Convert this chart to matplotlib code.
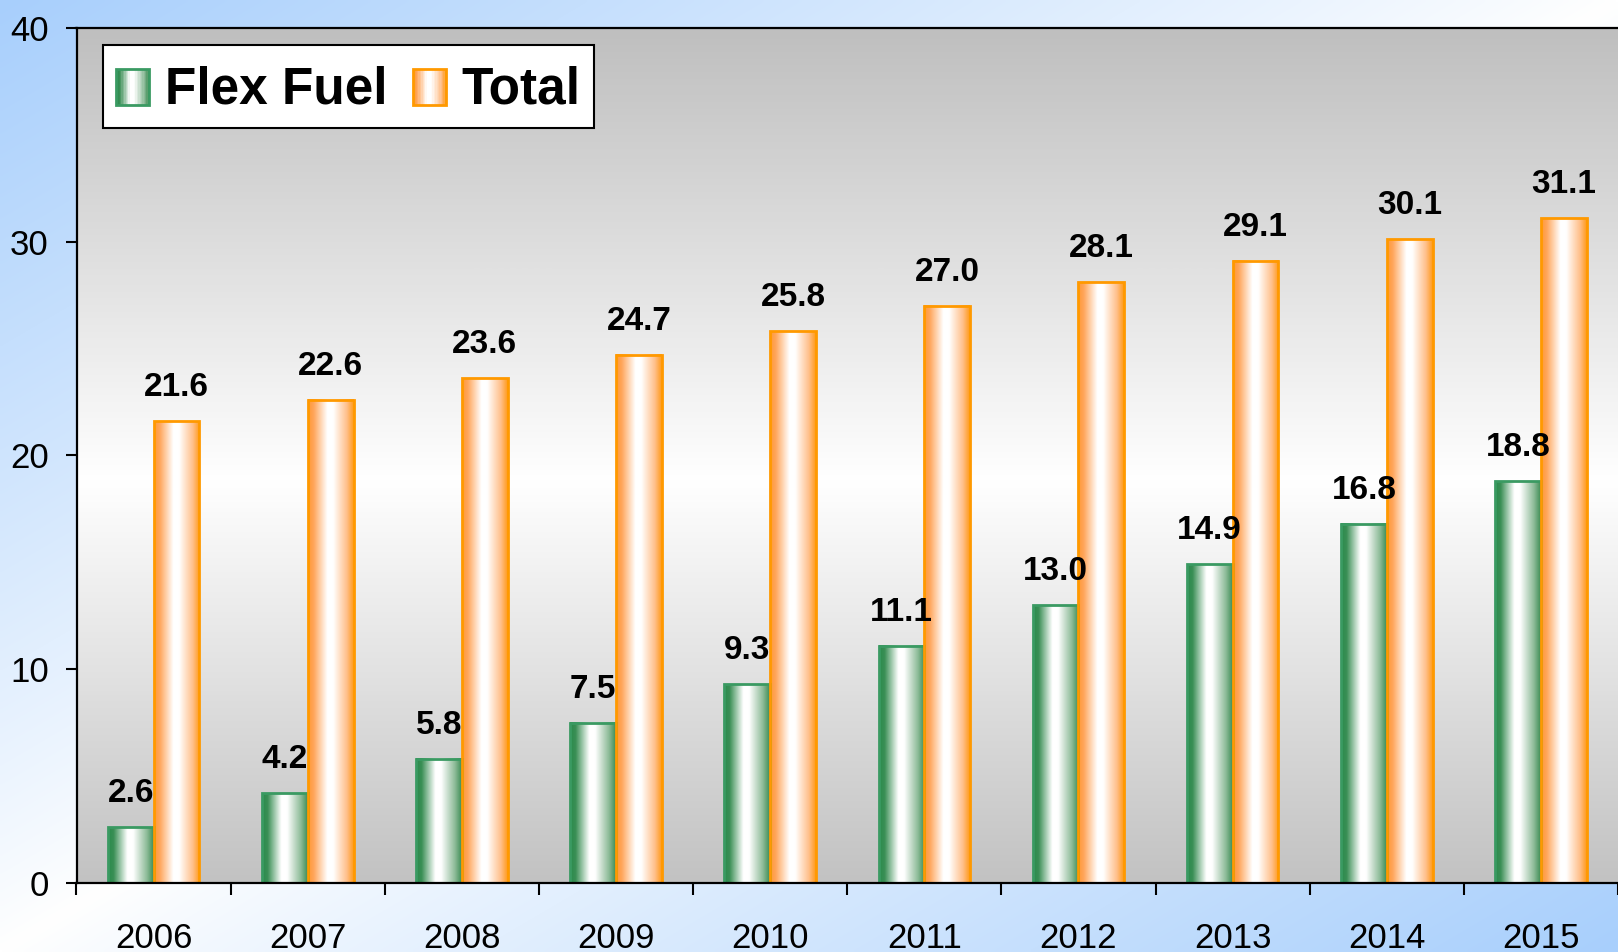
import numpy as np
import matplotlib
matplotlib.use('Agg')
import matplotlib.pyplot as plt
from matplotlib.colors import LinearSegmentedColormap
from matplotlib.patches import Rectangle
from matplotlib.legend_handler import HandlerBase

plt.rcParams['font.family'] = ['Liberation Sans', 'DejaVu Sans']

years = ['2006', '2007', '2008', '2009', '2010', '2011', '2012', '2013', '2014', '2015']
flex_fuel = [2.6, 4.2, 5.8, 7.5, 9.3, 11.1, 13.0, 14.9, 16.8, 18.8]
total = [21.6, 22.6, 23.6, 24.7, 25.8, 27.0, 28.1, 29.1, 30.1, 31.1]
series_names = ['Flex Fuel', 'Total']

W_PX, H_PX = 1618, 952
fig = plt.figure(figsize=(W_PX / 100, H_PX / 100), dpi=100)

# ---- figure background: diagonal blue-white-blue gradient ----
bg = fig.add_axes([0, 0, 1, 1], zorder=-10)
gx = np.linspace(0, 1, 400)
gy = np.linspace(0, 1, 240)
GX, GY = np.meshgrid(gx, gy)
t = np.clip(np.abs(GX + GY - 1.0), 0, 1) ** 0.9
blue = np.array([168, 207, 252]) / 255.0
img = (1 - t)[..., None] * np.ones(3) + t[..., None] * blue
bg.imshow(img, aspect='auto', extent=[0, 1, 0, 1], origin='upper', interpolation='bilinear')
bg.axis('off')

# ---- main axes ----
left_px, top_px, bottom_px = 76.5, 27.8, 883.0
ax = fig.add_axes([left_px / W_PX, 1 - bottom_px / H_PX,
                   1 - left_px / W_PX, (bottom_px - top_px) / H_PX])
ax.patch.set_alpha(0)

# plot-area vertical gradient gray -> white -> gray
plot_cmap = LinearSegmentedColormap.from_list(
    'plotbg', [(0.0, '#c2c2c2'), (0.47, '#ffffff'), (1.0, '#bfbfbf')])
vgrad = np.linspace(0, 1, 256).reshape(-1, 1)
ax.imshow(vgrad, cmap=plot_cmap, aspect='auto', extent=[0, 1, 0, 1],
          transform=ax.transAxes, origin='lower', zorder=0, interpolation='bilinear')

green_cmap = LinearSegmentedColormap.from_list(
    'g', [(0.0, '#2a8a4c'), (0.12, '#3a8f55'), (0.42, '#ffffff'), (0.55, '#ffffff'),
          (0.85, '#8dbb98'), (1.0, '#3e8d55')])
orange_cmap = LinearSegmentedColormap.from_list(
    'o', [(0.0, '#ff9a35'), (0.12, '#ffa55a'), (0.42, '#ffffff'), (0.55, '#ffffff'),
          (0.85, '#ffbf8a'), (1.0, '#ff9a1a')])
green_edge = '#3a9a62'
orange_edge = '#ff9900'

x = np.arange(len(years))
w = 0.297
bars_f = ax.bar(x - w / 2, flex_fuel, w, facecolor='none', edgecolor=green_edge,
                linewidth=2, zorder=3)
bars_t = ax.bar(x + w / 2, total, w, facecolor='none', edgecolor=orange_edge,
                linewidth=2, zorder=3)

hgrad = np.linspace(0, 1, 128).reshape(1, -1)
for bars, cmap in ((bars_f, green_cmap), (bars_t, orange_cmap)):
    for p in bars:
        ax.imshow(hgrad, cmap=cmap, aspect='auto',
                  extent=[p.get_x(), p.get_x() + p.get_width(), 0, p.get_height()],
                  zorder=2, interpolation='bilinear')
        ax.annotate(f'{p.get_height():.1f}',
                    xy=(p.get_x() + p.get_width() / 2, p.get_height()),
                    xytext=(0, 18), textcoords='offset points',
                    ha='center', va='baseline', fontsize=24, fontweight='bold',
                    zorder=5)

ax.set_ylim(0, 40)
ax.set_xlim(-0.5, -0.5 + (W_PX - left_px) / 155.0)

ax.set_yticks([0, 10, 20, 30, 40])
ax.tick_params(axis='y', length=8, width=1.5, pad=12, labelsize=25, direction='out')

ax.set_xticks(np.arange(len(years) + 1) - 0.5)
ax.set_xticklabels([])
ax.set_xticks(x, minor=True)
ax.set_xticklabels(years, minor=True)
ax.tick_params(axis='x', which='major', length=8.5, width=1.5, direction='out')
ax.tick_params(axis='x', which='minor', length=0, pad=28, labelsize=25)

for s in ('left', 'bottom', 'top'):
    ax.spines[s].set_linewidth(1.6)
    ax.spines[s].set_color('black')
    ax.spines[s].set_zorder(6)
ax.spines['right'].set_visible(False)


class GradHandler(HandlerBase):
    def __init__(self, cmap, edge):
        super().__init__()
        self.cmap = cmap
        self.edge = edge

    def create_artists(self, legend, orig_handle, xdescent, ydescent, width, height,
                       fontsize, trans):
        n = 24
        rh = fontsize * 0.7
        y0 = -ydescent + (height - rh) / 2
        arts = []
        for i in range(n):
            arts.append(Rectangle((-xdescent + width * i / n, y0), width / n + 0.3,
                                  rh, facecolor=self.cmap((i + 0.5) / n),
                                  edgecolor='none', transform=trans))
        arts.append(Rectangle((-xdescent, y0), width, rh, facecolor='none',
                              edgecolor=self.edge, linewidth=2, transform=trans))
        return arts


h1 = Rectangle((0, 0), 1, 1)
h2 = Rectangle((0, 0), 1, 1)
leg = ax.legend([h1, h2], series_names,
                handler_map={h1: GradHandler(green_cmap, green_edge),
                             h2: GradHandler(orange_cmap, orange_edge)},
                loc='upper left', bbox_to_anchor=(0.0172, 0.980), borderaxespad=0,
                ncol=2, prop={'weight': 'bold', 'size': 37},
                handlelength=0.65, handleheight=1.35, handletextpad=0.3,
                borderpad=0.25, columnspacing=0.5,
                frameon=True, fancybox=False, framealpha=1, edgecolor='black',
                facecolor='white')
leg.get_frame().set_linewidth(1.5)
leg.set_zorder(10)

fig.savefig('out.png', dpi=100)
